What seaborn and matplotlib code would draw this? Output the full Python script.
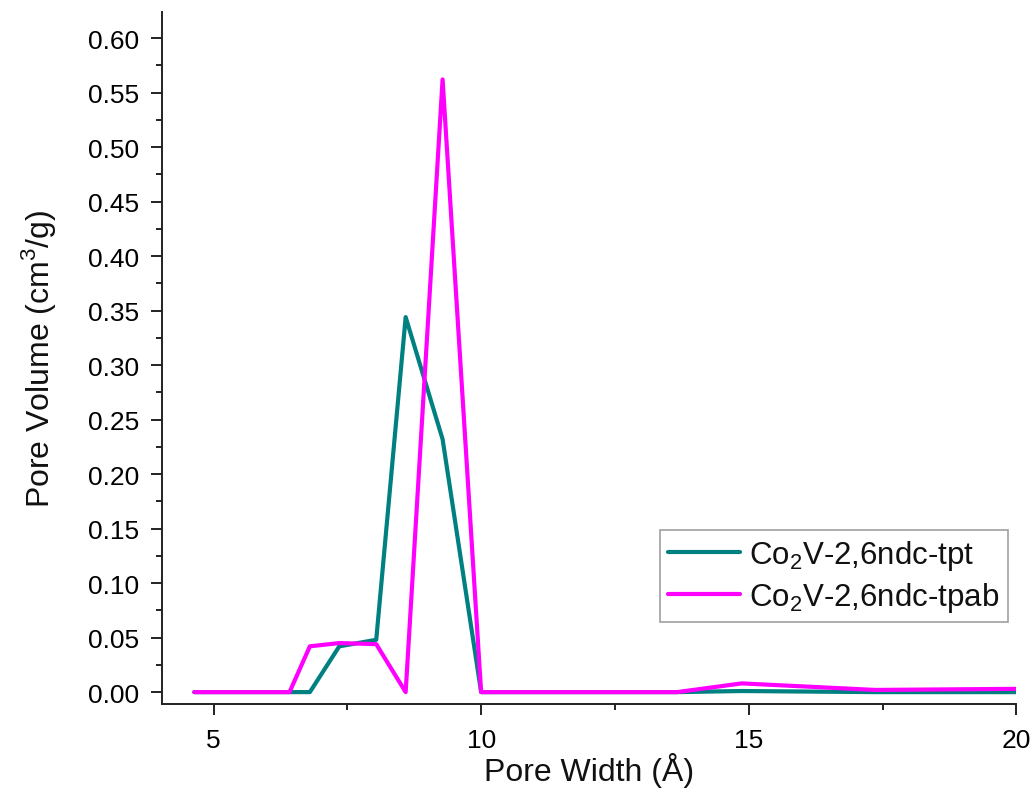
import pandas as pd
import seaborn as sns
import matplotlib.pyplot as plt
from matplotlib.ticker import MultipleLocator

# pore width grid (Angstrom) and pore volume for each sample
pore_width = [4.64, 6.42, 6.80, 7.35, 8.04, 8.59, 9.28, 10.0, 13.66, 14.87, 17.36, 20.0]
vol_tpt = [0.0, 0.0, 0.0, 0.042, 0.048, 0.344, 0.232, 0.0, 0.0, 0.001, 0.0, 0.0]
vol_tpab = [0.0, 0.0, 0.042, 0.045, 0.044, 0.0, 0.562, 0.0, 0.0, 0.008, 0.002, 0.003]
labels = ['Co$_2$V-2,6ndc-tpt', 'Co$_2$V-2,6ndc-tpab']
colors = ['#008080', '#ff00ff']

df = pd.concat([
    pd.DataFrame({'width': pore_width, 'volume': vol_tpt, 'sample': labels[0]}),
    pd.DataFrame({'width': pore_width, 'volume': vol_tpab, 'sample': labels[1]}),
])

sns.set_style('ticks')
plt.rcParams['font.family'] = ['Liberation Sans', 'DejaVu Sans']
plt.rcParams['mathtext.fontset'] = 'custom'
plt.rcParams['mathtext.rm'] = 'Liberation Sans'

fig = plt.figure(figsize=(10.36, 8.04), dpi=100)
ax = fig.add_axes([0.156, 0.123, 0.825, 0.861])

sns.lineplot(data=df, x='width', y='volume', hue='sample', palette=colors,
             linewidth=3.0, ax=ax, estimator=None, sort=False)

ax.set_xlim(4.03, 20)
ax.set_ylim(-0.011, 0.624)
ax.xaxis.set_major_locator(MultipleLocator(5))
ax.xaxis.set_minor_locator(MultipleLocator(2.5))
ax.yaxis.set_major_locator(MultipleLocator(0.05))
ax.yaxis.set_minor_locator(MultipleLocator(0.025))
ax.yaxis.set_major_formatter(plt.FormatStrFormatter('%.2f'))

ax.tick_params(which='major', direction='out', length=8, width=1.4, labelsize=19,
               colors='#222222', labelcolor='black', pad=8)
ax.tick_params(axis='x', which='major', pad=9)
ax.tick_params(which='minor', direction='out', length=4.5, width=1.4, colors='#222222')
for side in ['top', 'right']:
    ax.spines[side].set_visible(False)
for side in ['left', 'bottom']:
    ax.spines[side].set_linewidth(1.4)
    ax.spines[side].set_color('#222222')

ax.set_xlabel('Pore Width (Å)', fontsize=23, labelpad=0, color='#111111')
ax.set_ylabel('Pore Volume (cm$^3$/g)', fontsize=23, labelpad=22, color='#111111')

leg = ax.legend(loc='lower right', bbox_to_anchor=(0.997, 0.11), fontsize=22.5,
                frameon=True, fancybox=False, edgecolor='#888888', handlelength=2.3,
                handletextpad=0.3, borderpad=0.25, labelspacing=0.25, borderaxespad=0.2)
leg.get_frame().set_linewidth(1.2)
for t in leg.get_texts():
    t.set_color('#111111')

fig.savefig('out.png', dpi=100)
